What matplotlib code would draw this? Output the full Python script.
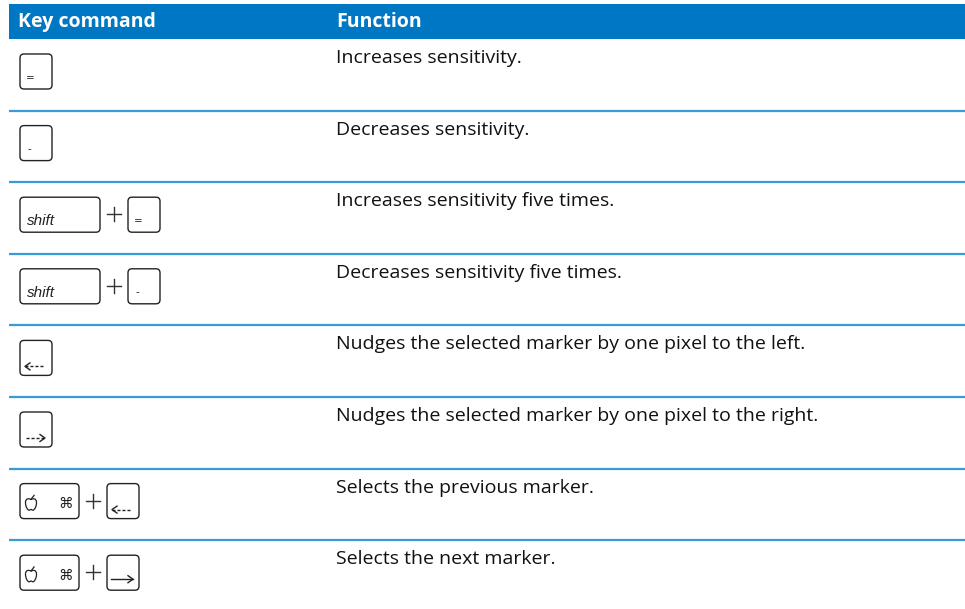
import matplotlib
matplotlib.use("Agg")
import matplotlib.pyplot as plt
from matplotlib.patches import FancyBboxPatch, Rectangle, PathPatch
from matplotlib.path import Path

# table content
headers = ["Key command", "Function"]
key_combos = [["="], ["-"], ["shift", "="], ["shift", "-"],
              ["left"], ["right"], ["cmd", "left"], ["cmd", "right2"]]
functions = [
    "Increases sensitivity.",
    "Decreases sensitivity.",
    "Increases sensitivity five times.",
    "Decreases sensitivity five times.",
    "Nudges the selected marker by one pixel to the left.",
    "Nudges the selected marker by one pixel to the right.",
    "Selects the previous marker.",
    "Selects the next marker.",
]

W, H = 965, 609
blue = "#0077c2"
line_blue = "#3a9ad9"
ink = "#222222"
font = ["Open Sans", "DejaVu Sans"]

fig = plt.figure(figsize=(W / 100, H / 100), dpi=100)
ax = fig.add_axes([0, 0, 1, 1])
ax.set_xlim(0, W)
ax.set_ylim(H, 0)
ax.axis("off")

# header band
ax.add_patch(Rectangle((9, 4), W - 9, 35, color=blue, lw=0))
ax.text(18, 27, headers[0], color="white", fontsize=14, fontweight="bold",
        family=font, va="baseline")
ax.text(336, 27, headers[1], color="white", fontsize=14, fontweight="bold",
        family=font, va="baseline")

row0 = 39
pitch = 71.6
widths = {"shift": 80, "cmd": 59}


def apple(cx, cy, s=1.0):
    pts = [(0, -3.5),
           (1.5, -5), (5, -5), (5, -1),
           (5, 3), (3, 6), (1.8, 6),
           (1, 6), (0.5, 5.3), (0, 5.3),
           (-0.5, 5.3), (-1, 6), (-1.8, 6),
           (-3, 6), (-5, 3), (-5, -1),
           (-5, -5), (-1.5, -5), (0, -3.5)]
    codes = [Path.MOVETO] + [Path.CURVE4] * 18
    p = Path([(cx + s * a, cy + s * b) for a, b in pts], codes)
    ax.add_patch(PathPatch(p, fc="none", ec=ink, lw=0.9))
    ax.plot([cx + 0.3 * s, cx + 2.8 * s], [cy - 4.3 * s, cy - 7.5 * s], color=ink, lw=0.9)


def arrow(x0, x1, y, dashed):
    # shaft
    if dashed:
        ax.plot([x0, x1], [y, y], color=ink, lw=1.0, ls=(0, (2.2, 1.4)))
    else:
        ax.plot([x0, x1], [y, y], color=ink, lw=1.0)
    d = 1 if x1 > x0 else -1
    ax.plot([x1 - d * 5, x1, x1 - d * 5], [y - 3.5, y, y + 3.5], color=ink, lw=1.0)


def draw_key(x, y, name):
    w = widths.get(name, 32)
    h = 35
    ax.add_patch(FancyBboxPatch((x + 4, y + 4), w - 8, h - 8,
                                boxstyle="round,pad=4", fc="white",
                                ec=ink, lw=1.0))
    if name == "=":
        ax.text(x + 10, y + 24, name, fontsize=7.5, family="DejaVu Sans",
                va="center", ha="center", color=ink)
    elif name == "-":
        ax.text(x + 9, y + 23, name, fontsize=7.5, family="DejaVu Sans",
                va="center", ha="center", color=ink)
    elif name == "shift":
        ax.text(x + 7, y + 28, "shift", fontsize=11, style="italic",
                family=["Liberation Sans Narrow", "Liberation Sans"],
                va="baseline", color=ink)
    elif name == "cmd":
        apple(x + 11, y + 20, 1.1)
        ax.text(x + 46, y + 20, "\u2318", fontsize=10.5, family="DejaVu Sans",
                va="center", ha="center", style="italic", color=ink)
    elif name == "left":
        arrow(x + 23, x + 5, y + 26, True)
    elif name == "right":
        arrow(x + 6, x + 25, y + 26, True)
    elif name == "right2":
        arrow(x + 4, x + 26, y + 24, False)
    return w


for i, (combo, func) in enumerate(zip(key_combos, functions)):
    top = row0 + i * pitch
    if i > 0:
        ax.plot([9, W], [top, top], color=line_blue, lw=1.6, solid_capstyle="butt")
    x = 20
    for j, k in enumerate(combo):
        if j > 0:
            cx, cy = x + 14, top + 32
            ax.plot([cx - 7, cx + 7], [cy, cy], color="#333333", lw=1.0)
            ax.plot([cx, cx], [cy - 7, cy + 7], color="#333333", lw=1.0)
            x += 28
        w = draw_key(x, top + 15, k)
        x += w
    ax.text(336, top + 24, func, fontsize=14, family=font, va="baseline",
            color="#111111")

fig.savefig("out.png", dpi=100)
